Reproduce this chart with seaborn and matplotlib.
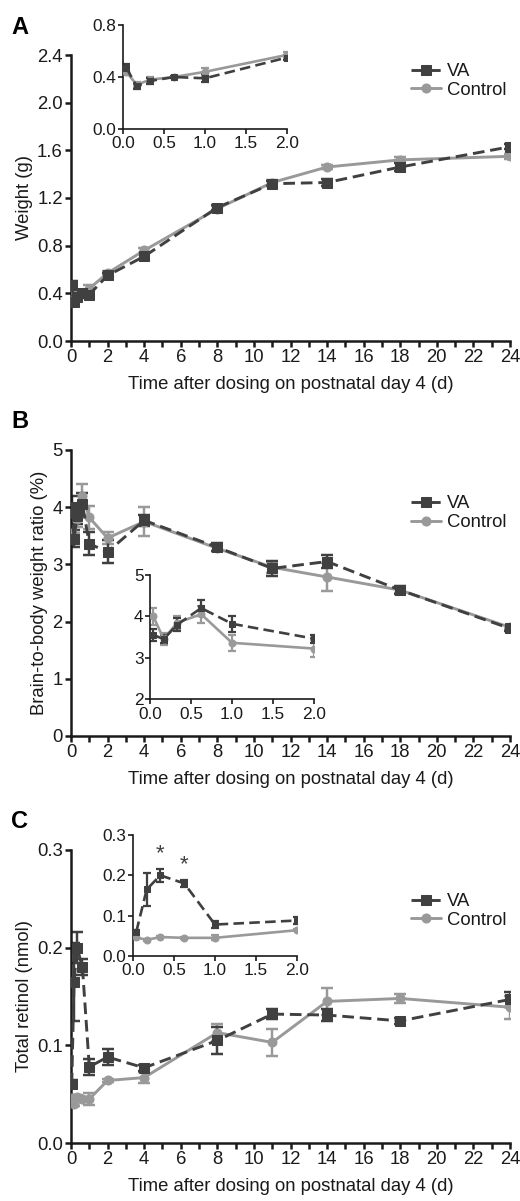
import numpy as np
import seaborn as sns
import matplotlib.pyplot as plt
from matplotlib.ticker import MultipleLocator, FormatStrFormatter

# time after dosing (d)
times = [0.04, 0.167, 0.333, 0.625, 1, 2, 4, 8, 11, 14, 18, 24]
n_inset = 6  # first six points go into the insets (0-2 d)

# --- A: body weight (g)
weight_va = [0.47, 0.33, 0.37, 0.40, 0.39, 0.55, 0.71, 1.12, 1.32, 1.33, 1.46, 1.63]
weight_va_err = [0.03, 0.02, 0.02, 0.01, 0.03, 0.02, 0.02, 0.02, 0.02, 0.03, 0.03, 0.02]
weight_ctrl = [0.44, 0.34, 0.38, 0.40, 0.44, 0.57, 0.76, 1.11, 1.33, 1.46, 1.52, 1.55]
weight_ctrl_err = [0.02, 0.02, 0.02, 0.01, 0.03, 0.02, 0.02, 0.02, 0.02, 0.02, 0.02, 0.02]

# --- B: brain-to-body weight ratio (%)
ratio_va = [4.00, 3.45, 3.85, 4.05, 3.36, 3.22, 3.77, 3.30, 2.93, 3.05, 2.55, 1.88]
ratio_va_err = [0.20, 0.15, 0.15, 0.20, 0.20, 0.20, 0.10, 0.07, 0.13, 0.12, 0.07, 0.05]
ratio_ctrl = [3.55, 3.45, 3.80, 4.20, 3.82, 3.46, 3.75, 3.28, 2.95, 2.78, 2.55, 1.90]
ratio_ctrl_err = [0.15, 0.10, 0.15, 0.20, 0.20, 0.10, 0.25, 0.05, 0.10, 0.25, 0.05, 0.03]

# --- C: total retinol (nmol)
retinol_va = [0.060, 0.165, 0.200, 0.180, 0.078, 0.088, 0.077, 0.105, 0.132, 0.131, 0.125, 0.147]
retinol_va_err = [0.004, 0.040, 0.016, 0.008, 0.008, 0.008, 0.003, 0.014, 0.005, 0.006, 0.003, 0.008]
retinol_ctrl = [0.046, 0.040, 0.047, 0.045, 0.045, 0.064, 0.067, 0.113, 0.103, 0.145, 0.148, 0.139]
retinol_ctrl_err = [0.003, 0.002, 0.002, 0.002, 0.006, 0.002, 0.006, 0.009, 0.014, 0.014, 0.005, 0.012]

VA_COLOR = "#404040"
CTRL_COLOR = "#999999"
TXT = "#1a1a1a"
FS = 13.3

sns.set_style("ticks")
plt.rcParams["font.family"] = ["Liberation Sans", "DejaVu Sans"]
plt.rcParams["axes.edgecolor"] = TXT
plt.rcParams["xtick.color"] = TXT
plt.rcParams["ytick.color"] = TXT

W, H = 520, 1201
fig = plt.figure(figsize=(W / 100, H / 100), dpi=100)


def px_axes(x0, x1, y0, y1):
    # pixel box (top-left origin) -> figure axes
    return fig.add_axes([x0 / W, 1 - y1 / H, (x1 - x0) / W, (y1 - y0) / H])


def draw(ax, t, va, va_err, ctrl, ctrl_err, lw, ms, cap, swap=False):
    styles = [("Control", ctrl, ctrl_err, CTRL_COLOR, "o", False),
              ("VA", va, va_err, VA_COLOR, "s", True)]
    if swap:
        # the inset in panel B has the two line styles swapped in the source
        styles = [("Control", va, va_err, CTRL_COLOR, "o", False),
                  ("VA", ctrl, ctrl_err, VA_COLOR, "s", True)]
    for name, y, e, c, m, dashed in styles:
        ax.errorbar(t, y, yerr=e, fmt="none", ecolor=c, elinewidth=lw * 0.85,
                    capsize=cap, capthick=lw * 0.85, zorder=2)
        sns.lineplot(x=t, y=y, ax=ax, color=c, marker=m, markersize=ms,
                     markeredgecolor=c, linewidth=lw, label=name,
                     legend=False, zorder=3)
        if dashed:
            ax.lines[-1].set_dashes((4, 2))


def style_axes(ax, lw, size, tick_len, pad=1.5):
    sns.despine(ax=ax)
    for s in ["left", "bottom"]:
        ax.spines[s].set_linewidth(lw)
    ax.tick_params(width=lw, length=tick_len, labelsize=size, colors=TXT, pad=pad)
    ax.tick_params(which="minor", width=lw, length=tick_len)
    ax.patch.set_alpha(0)


def main_panel(box, va, va_err, ctrl, ctrl_err, ylim, ystep, yfmt, ylabel, letter, legend_y):
    ax = px_axes(*box)
    draw(ax, times, va, va_err, ctrl, ctrl_err, lw=2.1, ms=6.5, cap=4)
    ax.set_xlim(0, 24)
    ax.set_ylim(*ylim)
    ax.xaxis.set_major_locator(MultipleLocator(2))
    ax.xaxis.set_minor_locator(MultipleLocator(1))
    ax.yaxis.set_major_locator(MultipleLocator(ystep))
    ax.yaxis.set_major_formatter(FormatStrFormatter(yfmt))
    style_axes(ax, 1.8, FS, 4.5)
    ax.set_xlabel("Time after dosing on postnatal day 4 (d)", fontsize=FS, color=TXT, labelpad=7)
    ax.set_ylabel(ylabel, fontsize=FS, color=TXT, labelpad=3)
    handles, labels = ax.get_legend_handles_labels()
    order = [labels.index("VA"), labels.index("Control")]
    ax.legend([handles[i] for i in order], [labels[i] for i in order],
              frameon=False, fontsize=FS, handlelength=1.6, handletextpad=0.35,
              labelspacing=0.1, loc="upper right", bbox_to_anchor=(1.03, legend_y),
              labelcolor=TXT)
    fig.text(20 / W, 1 - (box[2] - 28) / H, letter, fontsize=17, fontweight="bold",
             color="black", ha="center", va="center")
    return ax


def inset_panel(box, va, va_err, ctrl, ctrl_err, ylim, ystep, yfmt, swap=False):
    ax = px_axes(*box)
    draw(ax, times[:n_inset], va[:n_inset], va_err[:n_inset],
         ctrl[:n_inset], ctrl_err[:n_inset], lw=1.9, ms=5, cap=3, swap=swap)
    ax.set_xlim(0, 2)
    ax.set_ylim(*ylim)
    ax.xaxis.set_major_locator(MultipleLocator(0.5))
    ax.xaxis.set_major_formatter(FormatStrFormatter("%.1f"))
    ax.yaxis.set_major_locator(MultipleLocator(ystep))
    ax.yaxis.set_major_formatter(FormatStrFormatter(yfmt))
    style_axes(ax, 1.2, 12.4, 3.5, pad=1.2)
    ax.set_xlabel("")
    ax.set_ylabel("")
    return ax


# panel A
main_panel((71, 510, 55, 341), weight_va, weight_va_err, weight_ctrl, weight_ctrl_err,
           (0, 2.4), 0.4, "%.1f", "Weight (g)", "A", 1.03)
inset_panel((123, 287, 25, 129), weight_va, weight_va_err, weight_ctrl, weight_ctrl_err,
            (0, 0.8), 0.4, "%.1f")

# panel B
main_panel((71, 510, 450, 736), ratio_va, ratio_va_err, ratio_ctrl, ratio_ctrl_err,
           (0, 5), 1, "%d", "Brain-to-body weight ratio (%)", "B", 0.9)
axb = inset_panel((150, 314, 575, 699), ratio_va, ratio_va_err, ratio_ctrl, ratio_ctrl_err,
                  (2, 5), 1, "%d", swap=True)
axb.tick_params(axis="x", pad=2.5)

# panel C
main_panel((71, 510, 850, 1143), retinol_va, retinol_va_err, retinol_ctrl, retinol_ctrl_err,
           (0, 0.3), 0.1, "%.1f", "Total retinol (nmol)", "C", 0.91)
axc = inset_panel((133, 297, 835, 956), retinol_va, retinol_va_err, retinol_ctrl, retinol_ctrl_err,
                  (0, 0.3), 0.1, "%.1f")
for i in [2, 3]:
    axc.text(times[i], retinol_va[i] + retinol_va_err[i] + 0.012, "*", fontsize=16,
             color=VA_COLOR, ha="center", va="bottom")

fig.savefig("out.png", dpi=100)
